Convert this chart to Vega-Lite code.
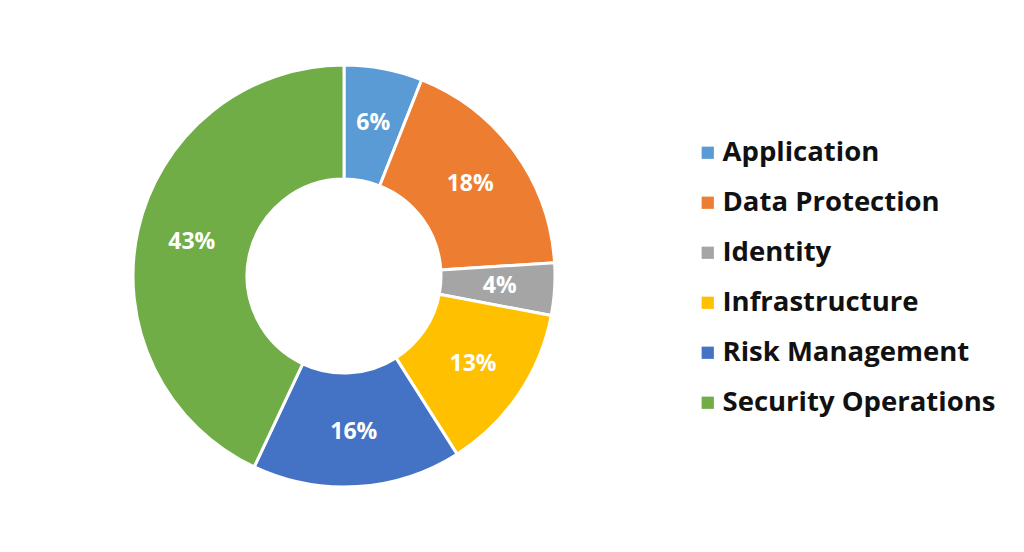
{
  "$schema": "https://vega.github.io/schema/vega-lite/v6.json",
  "width": 678,
  "height": 542,
  "padding": 5,
  "background": "white",
  "data": {
    "values": [
      {"category": "Application", "value": 6, "label": "6%"},
      {"category": "Data Protection", "value": 18, "label": "18%"},
      {"category": "Identity", "value": 4, "label": "4%"},
      {"category": "Infrastructure", "value": 13, "label": "13%"},
      {"category": "Risk Management", "value": 16, "label": "16%"},
      {"category": "Security Operations", "value": 43, "label": "43%"}
    ]
  },
  "encoding": {
    "theta": {"field": "value", "type": "quantitative", "stack": true},
    "order": {"field": "category", "type": "nominal", "sort": "ascending"}
  },
  "layer": [
    {
      "mark": {"type": "arc", "radius": 211, "radius2": 97, "stroke": "white", "strokeWidth": 3},
      "encoding": {
        "color": {
          "field": "category",
          "type": "nominal",
          "scale": {
            "domain": ["Application", "Data Protection", "Identity", "Infrastructure", "Risk Management", "Security Operations"],
            "range": ["#5B9BD5", "#ED7D31", "#A5A5A5", "#FFC000", "#4472C4", "#70AD47"]
          },
          "legend": {
            "title": null,
            "orient": "none",
            "legendX": 689,
            "legendY": 134,
            "symbolType": "square",
            "symbolSize": 150,
            "symbolStrokeWidth": 0,
            "labelFont": "Open Sans",
            "labelFontSize": 27.5,
            "labelFontWeight": "bold",
            "labelColor": "#111111",
            "labelOffset": 1,
            "rowPadding": 21,
            "labelLimit": 400
          }
        }
      }
    },
    {
      "mark": {"type": "text", "radius": 156, "fill": "white", "font": "Open Sans", "fontSize": 23, "fontWeight": "bold"},
      "encoding": {
        "text": {"field": "label", "type": "nominal"}
      }
    }
  ],
  "config": {"view": {"stroke": null}}
}
